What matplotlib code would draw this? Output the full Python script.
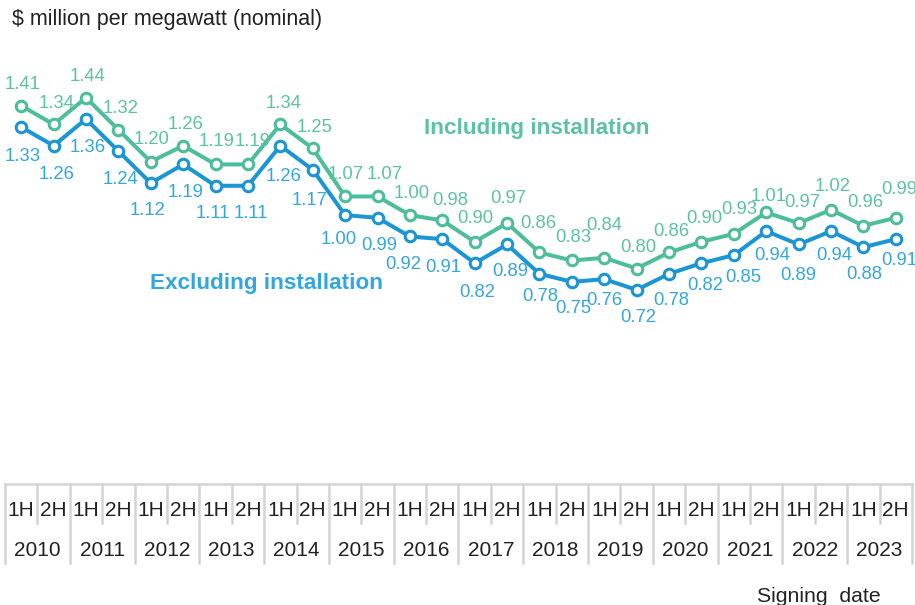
import matplotlib.pyplot as plt

plt.rcParams['font.family'] = ['Liberation Sans', 'DejaVu Sans']

# half-year periods, 2010 1H .. 2023 2H
halves = ['1H', '2H']
years = ['2010', '2011', '2012', '2013', '2014', '2015', '2016',
         '2017', '2018', '2019', '2020', '2021', '2022', '2023']

incl = [1.41, 1.34, 1.44, 1.32, 1.20, 1.26, 1.19, 1.19, 1.34, 1.25,
        1.07, 1.07, 1.00, 0.98, 0.90, 0.97, 0.86, 0.83, 0.84, 0.80,
        0.86, 0.90, 0.93, 1.01, 0.97, 1.02, 0.96, 0.99]
excl = [1.33, 1.26, 1.36, 1.24, 1.12, 1.19, 1.11, 1.11, 1.26, 1.17,
        1.00, 0.99, 0.92, 0.91, 0.82, 0.89, 0.78, 0.75, 0.76, 0.72,
        0.78, 0.82, 0.85, 0.94, 0.89, 0.94, 0.88, 0.91]

# label offsets from the marker, in pixels (dx right, dy down)
incl_off = [(1, -23), (3, -23), (2, -23), (2, -23), (1, -24), (2, -23), (1, -25),
            (5, -25), (3, -23), (2, -23), (1, -24), (7, -24), (2, -23), (8, -22),
            (1, -25), (1, -26), (-1, -31), (1, -25), (0, -34), (2, -23), (2, -23),
            (3, -25), (5, -26), (2, -18), (4, -22), (2, -25), (2, -25), (3, -30)]
excl_off = [(1, 28), (3, 27), (2, 27), (2, 27), (-3, 26), (2, 26), (-3, 26),
            (3, 26), (3, 29), (-3, 29), (-6, 23), (2, 26), (-7, 26), (1, 27),
            (2, 28), (3, 25), (1, 21), (1, 25), (0, 20), (2, 26), (2, 25),
            (4, 21), (9, 21), (6, 23), (0, 29), (3, 23), (1, 26), (3, 20)]

green = '#4dbd9b'
green_txt = '#5cc2a2'
blue = '#1b95d3'
blue_txt = '#33a6df'
grid = '#d4d4d4'
dark = '#222222'

W, H = 915, 605


def px_box(left, top, right, bottom):
    return [left / W, 1 - bottom / H, (right - left) / W, (bottom - top) / H]


fig = plt.figure(figsize=(W / 100, H / 100), dpi=100)

ax = fig.add_axes(px_box(5, 55, 912, 482))
ax.set_xlim(0, 28)
ax.set_ylim(0, 1.6)
ax.axis('off')

x = [i + 0.5 for i in range(len(incl))]
for vals, col, tcol, offs in [(incl, green, green_txt, incl_off),
                              (excl, blue, blue_txt, excl_off)]:
    ax.plot(x, vals, color=col, lw=2.9, marker='o', ms=7.6, mfc='white',
            mec=col, mew=2.2, zorder=3, clip_on=False)
    for xi, v, (dx, dy) in zip(x, vals, offs):
        ax.annotate(f'{v:.2f}', (xi, v), xytext=(dx * 0.72, -dy * 0.72 - 1.2),
                    textcoords='offset points', ha='center', va='center',
                    fontsize=13.3, color=tcol)

fig.text(537 / W, 1 - 128 / H, 'Including installation', ha='center',
         va='center', fontsize=16.2, fontweight='bold', color=green_txt)
fig.text(266 / W, 1 - 284 / H, 'Excluding installation', ha='center',
         va='center', fontsize=16.2, fontweight='bold', color=blue_txt)
fig.text(12 / W, 1 - 20 / H, '$ million per megawatt (nominal)', ha='left',
         va='center', fontsize=15.5, color=dark)

# category table under the chart
tax = fig.add_axes(px_box(5, 484, 912, 563))
tax.set_xlim(0, 28)
tax.set_ylim(563, 484)
tax.axis('off')
tax.plot([0, 28], [484, 484], color=grid, lw=1.8, clip_on=False)
for k in range(29):
    bottom = 563 if k % 2 == 0 else 523
    tax.plot([k, k], [484, bottom], color=grid, lw=1.8, clip_on=False)
for j, yr in enumerate(years):
    for h, lab in enumerate(halves):
        tax.text(2 * j + h + 0.5, 511, lab, ha='center', va='center',
                 fontsize=15, color=dark)
    tax.text(2 * j + 1, 551, yr, ha='center', va='center', fontsize=15,
             color=dark)

fig.text(819 / W, 1 - 597 / H, 'Signing  date', ha='center', va='center',
         fontsize=15.3, color=dark)

fig.savefig('out.png', dpi=100)
